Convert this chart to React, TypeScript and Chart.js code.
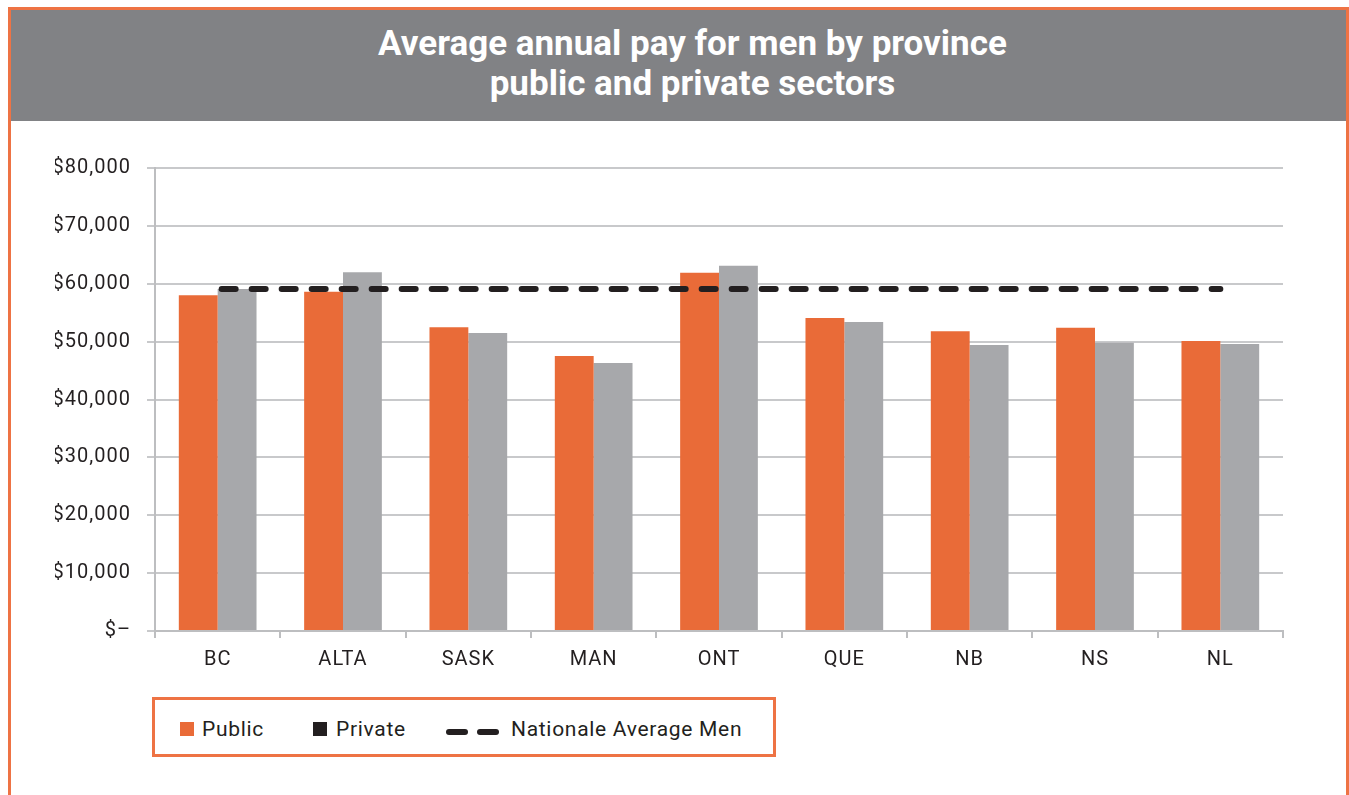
import React, { useEffect, useRef } from "react";
import { Chart, registerables } from "chart.js";

Chart.register(...registerables);

const provinces = ["BC", "ALTA", "SASK", "MAN", "ONT", "QUE", "NB", "NS", "NL"];
const publicPay = [58000, 58600, 52500, 47500, 61900, 54100, 51800, 52400, 50100];
const privatePay = [59100, 62000, 51500, 46300, 63100, 53400, 49400, 49800, 49600];
const nationalAverageMen = [59100, 59100, 59100, 59100, 59100, 59100, 59100, 59100, 59100];
const yTicks = [0, 10000, 20000, 30000, 40000, 50000, 60000, 70000, 80000];

const ORANGE = "#E96B38";
const GREY = "#A7A8AB";
const DARK = "#231F20";
const BORDER = "#EE7344";
const FONT = "Roboto, 'Open Sans', sans-serif";

function formatTick(v: number): string {
  if (v === 0) return "$\u2013";
  return "$" + v.toLocaleString("en-US");
}

const letterSpacingPlugin = {
  id: "letterSpacing",
  beforeLayout(chart: any) {
    chart.ctx.letterSpacing = "1px";
  },
  beforeDraw(chart: any) {
    chart.ctx.letterSpacing = "1px";
  },
};

export default function App() {
  const canvasRef = useRef<HTMLCanvasElement | null>(null);

  useEffect(() => {
    if (!canvasRef.current) return;
    const chart = new Chart(canvasRef.current, {
      type: "bar",
      data: {
        labels: provinces,
        datasets: [
          {
            type: "line",
            label: "Nationale Average Men",
            data: nationalAverageMen,
            borderColor: DARK,
            borderWidth: 6,
            borderDash: [14, 16],
            borderDashOffset: -4,
            borderCapStyle: "round",
            pointRadius: 0,
            fill: false,
            order: 0,
          } as any,
          {
            label: "Public",
            data: publicPay,
            backgroundColor: ORANGE,
            categoryPercentage: 0.62,
            barPercentage: 1,
            order: 1,
          },
          {
            label: "Private",
            data: privatePay,
            backgroundColor: GREY,
            categoryPercentage: 0.62,
            barPercentage: 1,
            order: 1,
          },
        ],
      },
      plugins: [letterSpacingPlugin],
      options: {
        responsive: false,
        animation: false,
        layout: { padding: { left: 44, right: 63, top: 47, bottom: 10 } },
        plugins: {
          legend: { display: false },
          title: { display: false },
          tooltip: { enabled: false },
        },
        scales: {
          x: {
            offset: true,
            grid: {
              display: true,
              offset: true,
              drawOnChartArea: false,
              drawTicks: true,
              tickLength: 7,
              color: "#BDBEC0",
              lineWidth: 2,
            },
            border: { display: true, color: "#BDBEC0", width: 2 },
            ticks: {
              color: DARK,
              font: { family: FONT, size: 20 },
              padding: 10,
            },
            afterFit: (s: any) => {
              s.height = 40;
            },
          },
          y: {
            min: 0,
            max: 80000,
            afterBuildTicks: (s: any) => {
              s.ticks = yTicks.map((v) => ({ value: v }));
            },
            grid: {
              color: "#C8C9CB",
              lineWidth: 2,
              drawTicks: true,
              tickLength: 8,
            },
            border: { display: true, color: "#BDBEC0", width: 2 },
            ticks: {
              color: DARK,
              font: { family: FONT, size: 20 },
              padding: 16,
              callback: (v: any) => formatTick(Number(v)),
            },
            afterFit: (s: any) => {
              s.width = 100;
            },
          },
        },
      },
    });
    return () => chart.destroy();
  }, []);

  const legendText: React.CSSProperties = {
    position: "absolute",
    top: -1,
    height: 60,
    lineHeight: "60px",
    fontFamily: FONT,
    fontSize: 21,
    letterSpacing: "0.7px",
    color: DARK,
    whiteSpace: "nowrap",
  };

  return (
    <div
      style={{
        position: "absolute",
        left: 8,
        top: 7,
        width: 1341,
        height: 788,
        boxSizing: "border-box",
        borderTop: `3px solid ${BORDER}`,
        borderLeft: `3px solid ${BORDER}`,
        borderRight: `3px solid ${BORDER}`,
        background: "#fff",
        overflow: "hidden",
      }}
    >
      <div
        style={{
          position: "absolute",
          left: 0,
          top: 0,
          right: 0,
          height: 111,
          background: "#818285",
          color: "#fff",
          fontFamily: FONT,
          fontWeight: 700,
          fontSize: 35,
          lineHeight: "40px",
          textAlign: "center",
          paddingTop: 14,
          paddingLeft: 28,
          boxSizing: "border-box",
        }}
      >
        <div>Average annual pay for men by province</div>
        <div>public and private sectors</div>
      </div>
      <canvas
        ref={canvasRef}
        width={1335}
        height={560}
        style={{ position: "absolute", left: 0, top: 111, width: 1335, height: 560 }}
      />
      <div
        style={{
          position: "absolute",
          left: 141,
          top: 687,
          width: 624,
          height: 60,
          boxSizing: "border-box",
          border: `3px solid ${BORDER}`,
        }}
      >
        <div style={{ position: "absolute", left: 25, top: 22, width: 14, height: 14, background: ORANGE }} />
        <div style={{ ...legendText, left: 47 }}>Public</div>
        <div style={{ position: "absolute", left: 158, top: 22, width: 14, height: 14, background: DARK }} />
        <div style={{ ...legendText, left: 181 }}>Private</div>
        <div style={{ position: "absolute", left: 291, top: 29, width: 22, height: 6, borderRadius: 3, background: DARK }} />
        <div style={{ position: "absolute", left: 322, top: 29, width: 22, height: 6, borderRadius: 3, background: DARK }} />
        <div style={{ ...legendText, left: 356 }}>Nationale Average Men</div>
      </div>
    </div>
  );
}
